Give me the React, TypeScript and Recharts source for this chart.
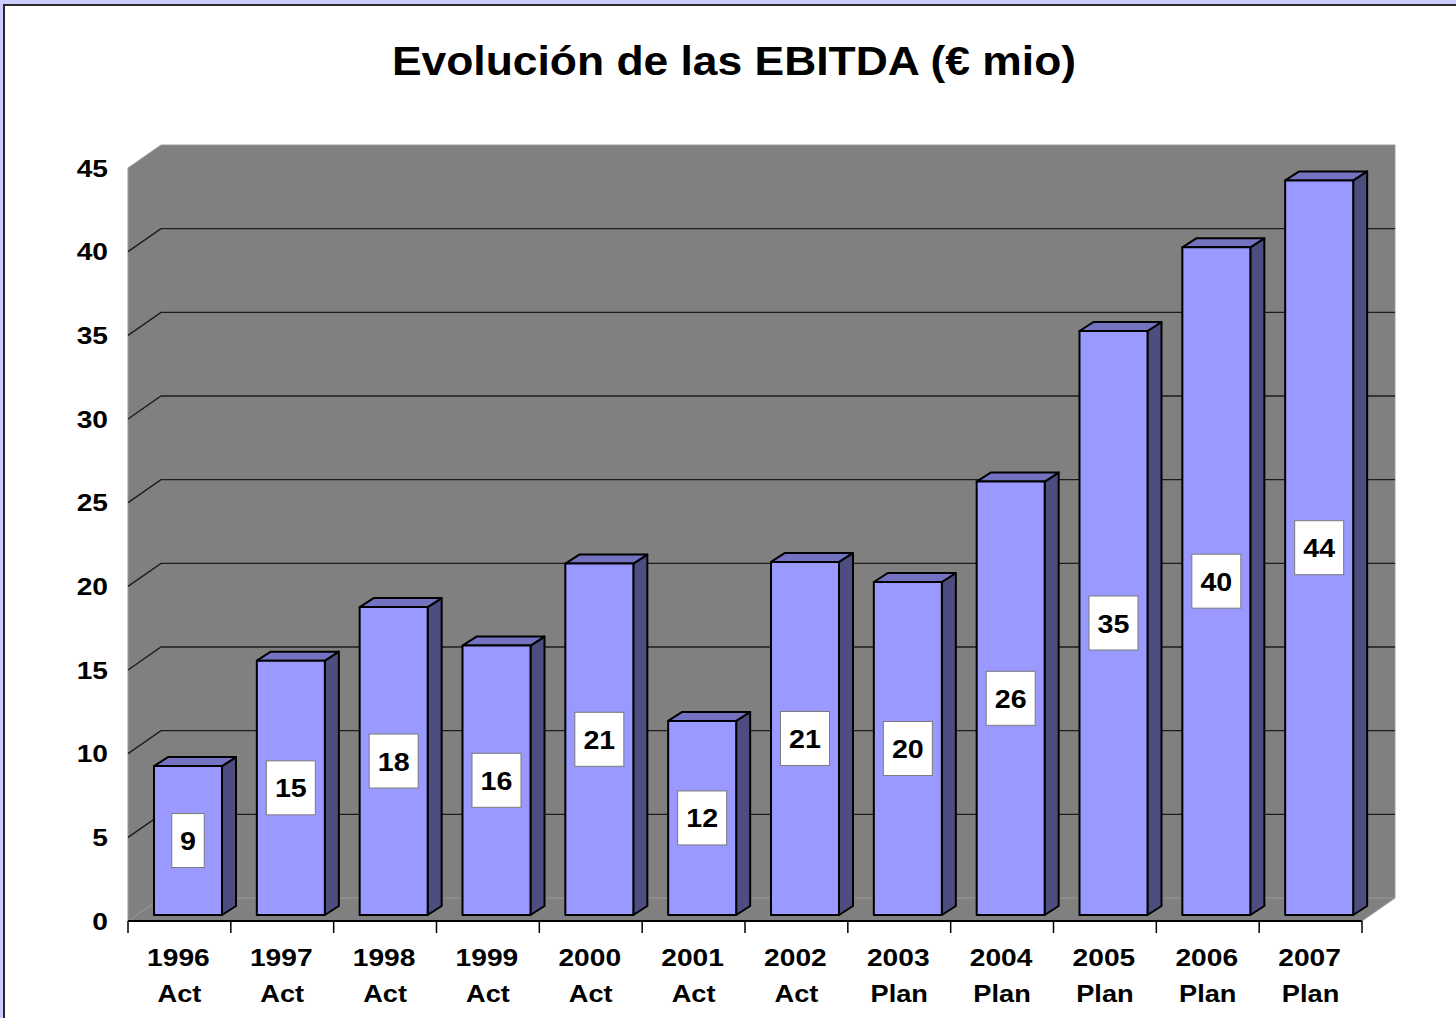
import { BarChart, Bar, XAxis, YAxis, CartesianGrid, LabelList } from "recharts";

const YEARS = ["1996", "1997", "1998", "1999", "2000", "2001", "2002", "2003", "2004", "2005", "2006", "2007"];
const PHASES = ["Act", "Act", "Act", "Act", "Act", "Act", "Act", "Plan", "Plan", "Plan", "Plan", "Plan"];
const EBITDA = [8.9, 15.2, 18.4, 16.1, 21.0, 11.6, 21.1, 19.9, 25.9, 34.9, 39.9, 43.9];
const Y_TICKS = [0, 5, 10, 15, 20, 25, 30, 35, 40, 45];

const data = YEARS.map((year, i) => ({ year, phase: PHASES[i], ebitda: EBITDA[i] }));

const W = 1456;
const H = 1018;
// front plane of the plot
const PLOT = { left: 128, top: 168, right: 1362, bottom: 921 };
const Y_AXIS_W = 60;
// 3d depth of the wall and of the bars
const WALL_DX = 33;
const WALL_DY = 23;
const SHIFT_X = 9;
const SHIFT_Y = 6;
const BAR_DX = 14;
const BAR_DY = 9;

const FONT = "'Liberation Sans', Arial, Helvetica, sans-serif";
const BAND = (PLOT.right - PLOT.left) / YEARS.length;
const STRETCH = 1.15; // the original font is drawn a bit wide

function Wall(p: any) {
  if (p.index !== 0) return <g key={p.key ?? p.index} />;
  const { left, top, right, bottom } = PLOT;
  const pts = [
    [left, top],
    [left + WALL_DX, top - WALL_DY],
    [right + WALL_DX, top - WALL_DY],
    [right + WALL_DX, bottom - WALL_DY],
    [right, bottom],
    [left, bottom],
  ]
    .map((q) => q.join(","))
    .join(" ");
  return <polygon key={p.key ?? p.index} points={pts} fill="#808080" stroke="#9a9a9a" strokeWidth={1} />;
}

function GridLine(p: any) {
  const { x1, x2, y1 } = p;
  const k = p.key ?? p.index;
  if (Math.abs(y1 - PLOT.top) < 1) return <g key={k} />;
  if (Math.abs(y1 - PLOT.bottom) < 1) {
    return (
      <g key={k}>
        <line x1={x1} y1={y1} x2={x1 + WALL_DX} y2={y1 - WALL_DY} stroke="#9a9a9a" strokeWidth={1} />
        <line x1={x1 + WALL_DX} y1={y1 - WALL_DY} x2={x2 + WALL_DX} y2={y1 - WALL_DY} stroke="#9a9a9a" strokeWidth={1} />
      </g>
    );
  }
  return (
    <polyline
      key={k}
      points={`${x1},${y1} ${x1 + WALL_DX},${y1 - WALL_DY} ${x2 + WALL_DX},${y1 - WALL_DY}`}
      fill="none"
      stroke="#1c1c1c"
      strokeWidth={1.4}
    />
  );
}

function Bar3D(props: any) {
  const { x, y, width, height } = props;
  if (height <= 0) return <g />;
  const fx = x + SHIFT_X;
  const fy = y - SHIFT_Y;
  const r = fx + width;
  const b = fy + height;
  return (
    <g stroke="#000" strokeWidth={2} strokeLinejoin="round">
      <polygon
        points={`${r},${fy} ${r + BAR_DX},${fy - BAR_DY} ${r + BAR_DX},${b - BAR_DY} ${r},${b}`}
        fill="#4d4d80"
      />
      <polygon
        points={`${fx},${fy} ${fx + BAR_DX},${fy - BAR_DY} ${r + BAR_DX},${fy - BAR_DY} ${r},${fy}`}
        fill="#7373c2"
      />
      <rect x={fx} y={fy} width={width} height={height} fill="#9999ff" />
    </g>
  );
}

function WideText({ x, y, anchor, size, sx, children }: any) {
  return (
    <text
      transform={`translate(${x},${y}) scale(${sx},1)`}
      textAnchor={anchor}
      fontFamily={FONT}
      fontWeight="bold"
      fontSize={size}
      fill="#000"
    >
      {children}
    </text>
  );
}

function ValueBox(p: any) {
  const { x, y, width, height, value } = p;
  const label = String(Math.round(value));
  const cx = x + SHIFT_X + width / 2;
  const cy = y - SHIFT_Y + height / 2;
  const bw = label.length * 16.5 + 16;
  const bh = 54;
  return (
    <g>
      <rect x={cx - bw / 2} y={cy - bh / 2} width={bw} height={bh} fill="#fff" stroke="#7a7a7a" strokeWidth={1} />
      <WideText x={cx} y={cy + 9.5} anchor="middle" size={26.5} sx={1.08}>
        {label}
      </WideText>
    </g>
  );
}

function YTick(p: any) {
  return (
    <WideText x={p.x} y={p.y + 8.7} anchor="end" size={24.5} sx={STRETCH}>
      {p.payload.value}
    </WideText>
  );
}

function XTick(p: any) {
  const i = p.index;
  const left = p.x - BAND / 2;
  const last = i === YEARS.length - 1;
  return (
    <g>
      <line x1={left} y1={PLOT.bottom} x2={left} y2={PLOT.bottom + 12} stroke="#000" strokeWidth={1.5} />
      {last && (
        <line x1={left + BAND} y1={PLOT.bottom} x2={left + BAND} y2={PLOT.bottom + 12} stroke="#000" strokeWidth={1.5} />
      )}
      <WideText x={p.x - 1} y={PLOT.bottom + 45} anchor="middle" size={24.5} sx={STRETCH}>
        {p.payload.value}
      </WideText>
      <WideText x={p.x} y={PLOT.bottom + 81} anchor="middle" size={24.5} sx={1.11}>
        {PHASES[i]}
      </WideText>
    </g>
  );
}

export default function App() {
  return (
    <div style={{ position: "relative", width: W, height: H, background: "#ccccff", overflow: "hidden" }}>
      <style>{"body{margin:0}"}</style>
      <div
        style={{
          position: "absolute",
          left: 3,
          top: 4,
          width: W,
          height: H,
          background: "#fff",
          borderLeft: "2px solid #2a2a2a",
          borderTop: "2px solid #2a2a2a",
        }}
      />
      <div
        style={{
          position: "absolute",
          left: 0,
          top: 41,
          width: 1468,
          textAlign: "center",
          fontFamily: FONT,
          fontWeight: "bold",
          fontSize: 40,
          lineHeight: "40px",
          color: "#000",
          transform: "scaleX(1.11)",
          transformOrigin: "734px 0",
        }}
      >
        Evolución de las EBITDA (€ mio)
      </div>
      <div style={{ position: "absolute", left: 0, top: 0 }}>
        <BarChart
          width={W}
          height={H}
          data={data}
          margin={{ top: PLOT.top, left: PLOT.left - Y_AXIS_W, right: W - PLOT.right, bottom: 0 }}
          barSize={68}
        >
          <CartesianGrid vertical={false} horizontal={(p: any) => Wall(p)} stroke="none" />
          <CartesianGrid vertical={false} horizontal={(p: any) => GridLine(p)} />
          <XAxis
            dataKey="year"
            height={H - PLOT.bottom}
            axisLine={{ stroke: "#000", strokeWidth: 2 }}
            tickLine={false}
            tickSize={0}
            tickMargin={0}
            interval={0}
            tick={(p: any) => XTick(p)}
          />
          <YAxis
            width={Y_AXIS_W}
            domain={[0, 45]}
            ticks={Y_TICKS}
            interval={0}
            axisLine={false}
            tickLine={false}
            tickSize={0}
            tickMargin={20}
            tick={(p: any) => YTick(p)}
          />
          <Bar dataKey="ebitda" shape={(p: any) => Bar3D(p)} isAnimationActive={false}>
            <LabelList dataKey="ebitda" content={(p: any) => ValueBox(p)} />
          </Bar>
        </BarChart>
      </div>
    </div>
  );
}
